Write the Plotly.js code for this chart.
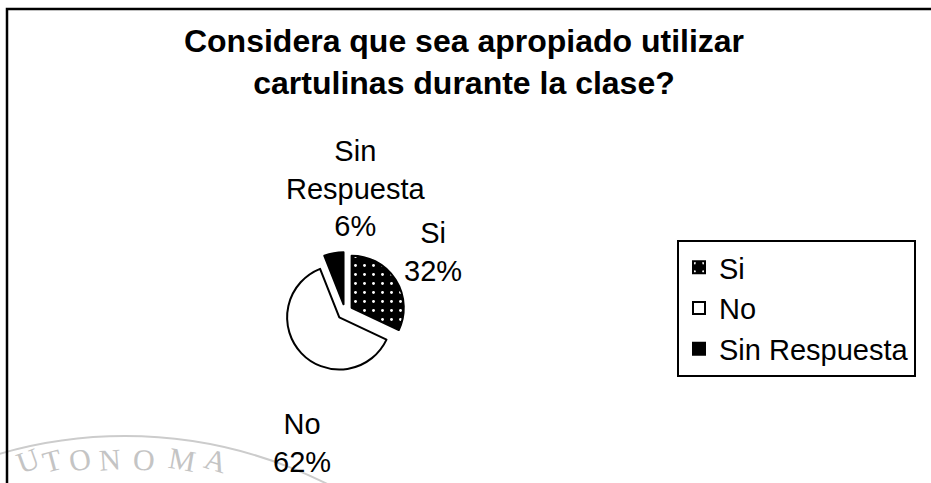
<!DOCTYPE html>
<html>
<head>
<meta charset="utf-8">
<script src="https://cdn.plot.ly/plotly-3.0.1.min.js"></script>
<style>html,body{margin:0;padding:0;background:#fff;}#chart{width:931px;height:483px;}</style>
</head>
<body>
<div id="chart"></div>
<script>
var categories = ["Si", "No", "Sin Respuesta"];
var values = [32, 62, 6];
var labelText = ["Si", "No", "Sin<br>Respuesta"];
var titleText = "Considera que sea apropiado utilizar<br>cartulinas durante la clase?";
var watermarkLetters = ["U", "T", "O", "N", "O", "M", "A"];

var total = values.reduce(function(a, b){ return a + b; }, 0);
var pct = values.map(function(v){ return Math.round(v / total * 100) + "%"; });

var W = 931, H = 483;
function px(x){ return x / W; }
function py(y){ return (H - y) / H; }
var FONT = "Arial, 'Liberation Sans', sans-serif";

var trace = {
  type: "pie",
  labels: categories,
  values: values,
  sort: false,
  direction: "clockwise",
  rotation: 0,
  pull: [0.15, 0.15, 0.15],
  textinfo: "none",
  hoverinfo: "label+percent",
  domain: {x: [px(285), px(405)], y: [py(372), py(252)]},
  marker: {
    colors: ["#000000", "#ffffff", "#000000"],
    line: {color: "#000000", width: 2},
    pattern: {
      shape: [".", "", ""],
      bgcolor: ["#000000", "#ffffff", "#000000"],
      fgcolor: ["#ffffff", "#000000", "#000000"],
      size: 9,
      solidity: 0.08
    }
  }
};

// label positions (paper coordinates)
var labelPos = [
  {x: px(433), y: py(252)},
  {x: px(302), y: py(443)},
  {x: px(356), y: py(188)}
];
var annotations = categories.map(function(c, i){
  return {
    xref: "paper", yref: "paper",
    x: labelPos[i].x, y: labelPos[i].y,
    xanchor: "center", yanchor: "middle",
    showarrow: false,
    align: "center",
    text: labelText[i] + "<br>" + pct[i],
    font: {family: FONT, size: 29, color: "#000"}
  };
});

// faint seal watermark of the scanned page
var wmX = [28, 52, 80, 110, 144, 182, 216];
var wmA = [-20, -15, -10, -4, 3, 10, 17];
var wmY = [482, 481, 480, 479, 479, 480, 482];
watermarkLetters.forEach(function(l, i){
  annotations.push({
    xref: "paper", yref: "paper",
    x: px(wmX[i]), y: py(wmY[i]),
    xanchor: "center", yanchor: "bottom",
    showarrow: false, textangle: wmA[i],
    text: l,
    font: {family: "'Liberation Serif', 'Times New Roman', serif", size: 30, color: "#c4c4c4"}
  });
});

var layout = {
  width: W, height: H,
  margin: {l: 0, r: 0, t: 0, b: 0},
  paper_bgcolor: "#ffffff",
  plot_bgcolor: "#ffffff",
  font: {family: FONT, color: "#000"},
  title: {
    text: "<b>" + titleText + "</b>",
    x: px(464), xanchor: "center",
    y: py(52), yanchor: "top",
    font: {family: FONT, size: 32, color: "#000"}
  },
  showlegend: true,
  legend: {
    x: px(677), xanchor: "left",
    y: py(240), yanchor: "top",
    bgcolor: "#ffffff",
    bordercolor: "#000000",
    borderwidth: 2,
    font: {family: FONT, size: 29, color: "#000"},
    traceorder: "normal",
    itemwidth: 30
  },
  annotations: annotations,
  shapes: [{
    type: "rect", xref: "paper", yref: "paper",
    x0: px(7), x1: 1.02, y0: -0.05, y1: py(9),
    line: {color: "#000", width: 2.5}
  }, {
    type: "circle", xref: "paper", yref: "paper",
    x0: px(125 - 450), x1: px(125 + 450), y0: py(436 + 900), y1: py(436),
    line: {color: "#cccccc", width: 2}, layer: "below"
  }]
};

Plotly.newPlot("chart", [trace], layout, {displayModeBar: false, staticPlot: true});
</script>
</body>
</html>
